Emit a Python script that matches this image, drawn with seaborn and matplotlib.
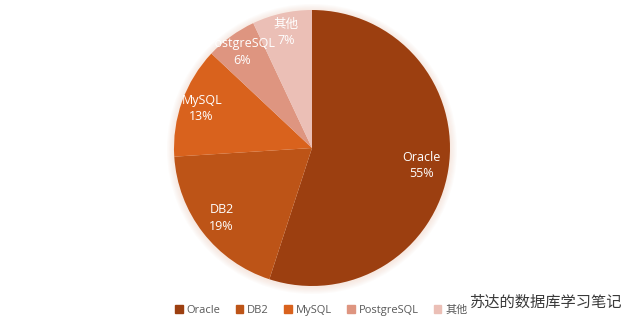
import numpy as np
import seaborn as sns
import matplotlib.pyplot as plt
from matplotlib.patches import Circle, Rectangle

# datos del gráfico
categorias = ["Oracle", "DB2", "MySQL", "PostgreSQL", "其他"]
porcentajes = [55, 19, 13, 6, 7]
colores = ["#9c3f10", "#bd5417", "#d9621d", "#de9580", "#ebbfb6"]
marca_agua = "苏达的数据库学习笔记"

sns.set_theme(style="white")
plt.rcParams['font.family'] = ['Open Sans', 'Noto Sans CJK SC', 'DejaVu Sans']

fig = plt.figure(figsize=(6.4, 3.31), dpi=100)
ax = fig.add_axes([0, 0, 1, 1])

cx, cy, r = 312, 183, 138

# sombra suave alrededor del pastel
for i in range(6):
    ax.add_patch(Circle((cx, cy - 1), r + 1 + i * 1.2, color="#e8b89c", alpha=0.05, lw=0, zorder=0))

pal = sns.color_palette(colores)
wedges, _ = ax.pie(porcentajes, colors=pal, startangle=90, counterclock=False,
                   center=(cx, cy), radius=r, frame=True,
                   wedgeprops=dict(linewidth=0))
ax.set_xlim(0, 640)
ax.set_ylim(0, 331)
ax.set_aspect("equal")
ax.axis("off")

dist = [0.80, 0.83, 0.85, 0.86, 0.86]
for w, cat, p, d in zip(wedges, categorias, porcentajes, dist):
    th = np.deg2rad((w.theta1 + w.theta2) / 2)
    x = cx + d * r * np.cos(th)
    y = cy + d * r * np.sin(th)
    ax.text(x, y, f"{cat}\n{p}%", ha="center", va="center", color="white",
            fontsize=9, linespacing=1.35)

# leyenda
handles = [Rectangle((0, 0), 1, 1, color=c) for c in pal]
leg = ax.legend(handles, categorias, loc="center", bbox_to_anchor=(0.502, 0.063),
                ncol=5, frameon=False, fontsize=8, handlelength=0.7, handleheight=0.7,
                handletextpad=0.35, columnspacing=1.35)
for t in leg.get_texts():
    t.set_color("#595959")

ax.text(469, 28, marca_agua, fontsize=11, color="#3a3a3a", ha="left", va="center")

fig.savefig("out.png", dpi=100)
